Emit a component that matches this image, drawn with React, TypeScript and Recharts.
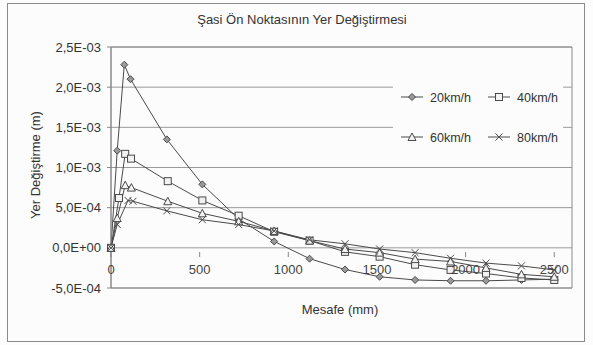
import { CartesianGrid, Line, LineChart, ReferenceArea, XAxis, YAxis } from 'recharts'

const xTicks = [0, 500, 1000, 1500, 2000, 2500]
const yTicks = [-5e-4, 0, 5e-4, 1e-3, 1.5e-3, 2e-3, 2.5e-3]

const x20 = [0, 35, 75, 110, 315, 515, 720, 920, 1120, 1320, 1515, 1715, 1915, 2115, 2315, 2500]
const y20 = [0, 1.21e-3, 2.28e-3, 2.1e-3, 1.35e-3, 7.9e-4, 3.6e-4, 8e-5, -1.35e-4, -2.7e-4, -3.6e-4, -4.0e-4, -4.1e-4, -4.1e-4, -4.0e-4, -3.9e-4]

const x40 = [0, 45, 80, 113, 320, 515, 720, 920, 1120, 1320, 1515, 1715, 1915, 2115, 2315, 2500]
const y40 = [0, 6.2e-4, 1.17e-3, 1.11e-3, 8.3e-4, 5.9e-4, 4.0e-4, 2.0e-4, 9e-5, -5e-5, -1.1e-4, -2.1e-4, -2.75e-4, -3.2e-4, -3.75e-4, -4.0e-4]

const x60 = [0, 35, 80, 115, 320, 515, 720, 920, 1120, 1320, 1515, 1715, 1915, 2115, 2315, 2500]
const y60 = [0, 3.7e-4, 7.8e-4, 7.5e-4, 5.8e-4, 4.3e-4, 3.3e-4, 2.1e-4, 9e-5, -1.5e-5, -6e-5, -1.4e-4, -1.7e-4, -2.5e-4, -3.3e-4, -3.6e-4]

const x80 = [0, 35, 96, 124, 315, 515, 720, 920, 1120, 1320, 1515, 1715, 1915, 2115, 2315, 2500]
const y80 = [0, 2.9e-4, 5.9e-4, 5.8e-4, 4.6e-4, 3.5e-4, 2.9e-4, 2.1e-4, 1.0e-4, 5e-5, -1.5e-5, -6e-5, -1.3e-4, -1.9e-4, -2.25e-4, -2.75e-4]

const toPoints = (xs: number[], ys: number[]) => xs.map((x, i) => ({ x, y: ys[i] }))

const INK = '#4a4a4a'
const FONT = 'Liberation Sans, Arial, sans-serif'

function fmtExp(v: number) {
  if (v === 0) return '0,0E+00'
  const [m, e] = v.toExponential(1).split('e')
  const n = Number(e)
  const exp = (n < 0 ? '-' : '+') + String(Math.abs(n)).padStart(2, '0')
  return m.replace('.', ',') + 'E' + exp
}

type Shape = 'diamond' | 'square' | 'triangle' | 'cross'

function Marker({ cx, cy, shape }: { cx: number; cy: number; shape: Shape }) {
  if (cx == null || cy == null) return null
  const s = 3.5
  if (shape === 'diamond')
    return <polygon points={`${cx},${cy - s} ${cx + s},${cy} ${cx},${cy + s} ${cx - s},${cy}`} fill="#9a9a9a" stroke={INK} strokeWidth={1} />
  if (shape === 'square')
    return <rect x={cx - s} y={cy - s} width={s * 2} height={s * 2} fill="#f2f2f2" stroke={INK} strokeWidth={1} />
  if (shape === 'triangle')
    return <polygon points={`${cx},${cy - s - 0.5} ${cx + s + 0.5},${cy + s} ${cx - s - 0.5},${cy + s}`} fill="#f2f2f2" stroke={INK} strokeWidth={1} />
  return (
    <g stroke={INK} strokeWidth={1}>
      <line x1={cx - s} y1={cy - s} x2={cx + s} y2={cy + s} />
      <line x1={cx - s} y1={cy + s} x2={cx + s} y2={cy - s} />
    </g>
  )
}

const series: { name: string; data: { x: number; y: number }[]; shape: Shape }[] = [
  { name: '20km/h', data: toPoints(x20, y20), shape: 'diamond' },
  { name: '40km/h', data: toPoints(x40, y40), shape: 'square' },
  { name: '60km/h', data: toPoints(x60, y60), shape: 'triangle' },
  { name: '80km/h', data: toPoints(x80, y80), shape: 'cross' },
]

function LegendBox() {
  return (
    <svg width={170} height={74} style={{ display: 'block' }}>
      {series.map((s, i) => {
        const col = i % 2
        const row = Math.floor(i / 2)
        const x0 = 8 + col * 87
        const y0 = 20 + row * 40
        return (
          <g key={s.name}>
            <line x1={x0} y1={y0} x2={x0 + 22} y2={y0} stroke={INK} strokeWidth={1} />
            <Marker cx={x0 + 11} cy={y0} shape={s.shape} />
            <text x={x0 + 29} y={y0 + 4.5} fontSize={12.5} fill="#333" fontFamily={FONT}>
              {s.name}
            </text>
          </g>
        )
      })}
    </svg>
  )
}

// x axis crosses at y = 0, so the tick labels are moved up from the bottom edge
const ZERO_SHIFT = 40

function XTick(props: any) {
  const { x, y, payload } = props
  return (
    <g>
      <line x1={x} y1={y - ZERO_SHIFT - 4} x2={x} y2={y - ZERO_SHIFT + 1} stroke="#888" />
      <text x={x} y={y - ZERO_SHIFT + 18} textAnchor="middle" fontSize={13} fill="#444" fontFamily={FONT}>
        {payload.value}
      </text>
    </g>
  )
}

export default function App() {
  return (
    <div style={{ position: 'absolute', left: 0, top: 0, width: 593, height: 345, background: '#fcfcfc', fontFamily: FONT }}>
      <div style={{ position: 'absolute', left: 7, top: 3, width: 576, height: 337, border: '1px solid #8a8a8a' }} />
      <LineChart width={593} height={345} margin={{ top: 47, right: 21, bottom: 0, left: 0 }} style={{ position: 'absolute', left: 0, top: 0 }}>
        <CartesianGrid vertical={false} stroke="#9a9a9a" />
        <ReferenceArea x1={0} x2={2600} y1={-5e-4} y2={2.5e-3} fill="none" stroke="#8a8a8a" />
        <XAxis
          type="number"
          dataKey="x"
          domain={[0, 2600]}
          ticks={xTicks}
          interval={0}
          axisLine={false}
          tickLine={false}
          tick={<XTick />}
          height={57}
        />
        <YAxis
          type="number"
          dataKey="y"
          domain={[-5e-4, 2.5e-3]}
          ticks={yTicks}
          interval={0}
          tickFormatter={fmtExp}
          width={111}
          axisLine={{ stroke: '#888' }}
          tickLine={{ stroke: '#888' }}
          tickSize={4}
          tickMargin={6}
          tick={{ fontSize: 13, fill: '#333', fontFamily: FONT }}
        />
        {series.map((s) => (
          <Line
            key={s.name}
            data={s.data}
            dataKey="y"
            name={s.name}
            type="linear"
            stroke={INK}
            strokeWidth={1}
            isAnimationActive={false}
            dot={(p: any) => <Marker key={p.index} cx={p.cx} cy={p.cy} shape={s.shape} />}
            activeDot={false}
          />
        ))}
      </LineChart>
      <div style={{ position: 'absolute', left: 393, top: 77, width: 170, height: 74, background: '#fcfcfc' }}>
        <LegendBox />
      </div>
      <div style={{ position: 'absolute', left: 0, top: 12, width: 604, textAlign: 'center', fontSize: 13, color: '#333' }}>
        Şasi Ön Noktasının Yer Değiştirmesi
      </div>
      <div style={{ position: 'absolute', left: 340, top: 302, transform: 'translateX(-50%)', fontSize: 13, color: '#333', whiteSpace: 'nowrap' }}>
        Mesafe (mm)
      </div>
      <div
        style={{
          position: 'absolute',
          left: 35,
          top: 165,
          transform: 'translate(-50%, -50%) rotate(-90deg)',
          fontSize: 13,
          color: '#333',
          whiteSpace: 'nowrap',
        }}
      >
        Yer Değiştirme (m)
      </div>
    </div>
  )
}
